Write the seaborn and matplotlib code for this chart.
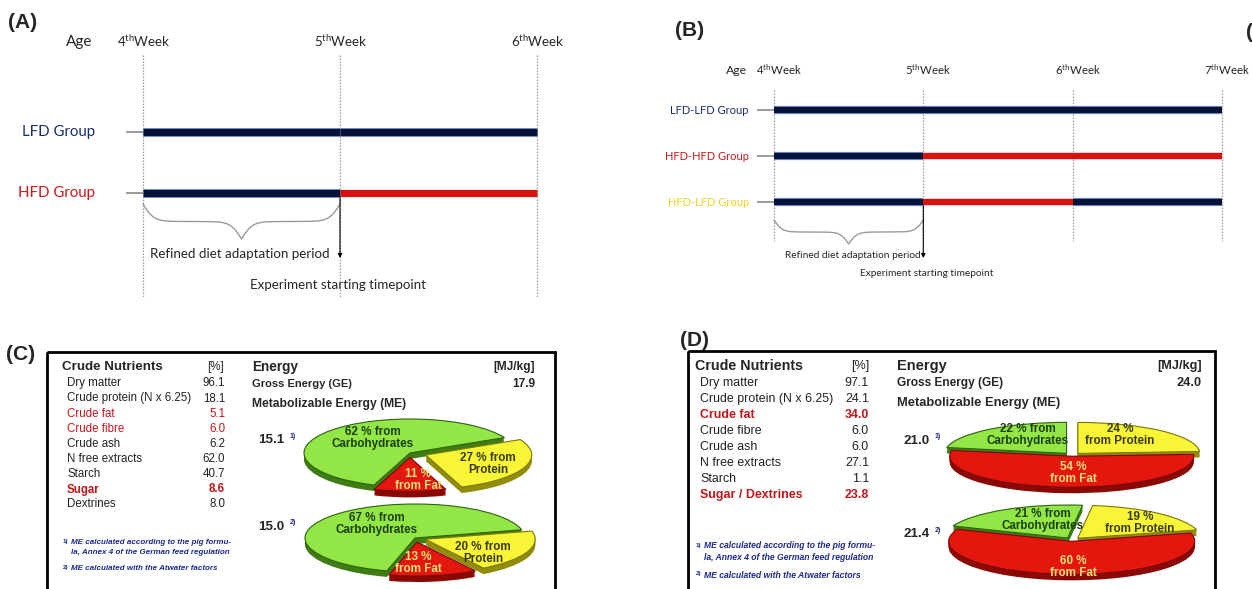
import numpy as np
import matplotlib
matplotlib.use("Agg")
import matplotlib.pyplot as plt
import matplotlib.transforms as mtransforms
import matplotlib.patheffects as pe
from matplotlib.patches import Rectangle
import seaborn as sns

# ---------------------------------------------------------------- data
# (A) two-group design
weeks_a = [4, 5, 6]
groups_a = ["LFD Group", "HFD Group"]
diets_a = [["LFD", "LFD"],
           ["LFD", "HFD"]]

# (B) three-group design
weeks_b = [4, 5, 6, 7]
groups_b = ["LFD-LFD Group", "HFD-HFD Group", "HFD-LFD Group"]
diets_b = [["LFD", "LFD", "LFD"],
           ["LFD", "HFD", "HFD"],
           ["LFD", "HFD", "LFD"]]

# (C) low-fat diet composition
nutrients_c = ["Dry matter", "Crude protein (N x 6.25)", "Crude fat", "Crude fibre",
               "Crude ash", "N free extracts", "Starch", "Sugar", "Dextrines"]
values_c = ["96.1", "18.1", "5.1", "6.0", "6.2", "62.0", "40.7", "8.6", "8.0"]
style_c = ["n", "n", "red", "red", "n", "n", "n", "redbold", "n"]
gross_energy_c = "17.9"
me_c = ["15.1", "15.0"]
pie_c1 = [27, 11, 62]          # protein, fat, carbohydrates
pie_c2 = [20, 13, 67]

# (D) high-fat diet composition
nutrients_d = ["Dry matter", "Crude protein (N x 6.25)", "Crude fat", "Crude fibre",
               "Crude ash", "N free extracts", "Starch", "Sugar / Dextrines"]
values_d = ["97.1", "24.1", "34.0", "6.0", "6.0", "27.1", "1.1", "23.8"]
style_d = ["n", "n", "redbold", "n", "n", "n", "n", "redbold"]
gross_energy_d = "24.0"
me_d = ["21.0", "21.4"]
pie_d1 = [22, 24, 54]          # carbohydrates, protein, fat
pie_d2 = [21, 19, 60]

footnotes = ["ME calculated according to the pig formu-",
             "la, Annex 4 of the German feed regulation",
             "ME calculated with the Atwater factors"]

# ---------------------------------------------------------------- style
sns.set_style("white")
NARROW = ["Lato", "DejaVu Sans"]
ARIAL = ["Liberation Sans", "DejaVu Sans"]
plt.rcParams["font.family"] = ARIAL
plt.rcParams["mathtext.fontset"] = "custom"
plt.rcParams["mathtext.rm"] = "Lato"

NAVY = "#07123b"
RED = "#d8120e"
diet_color = {"LFD": NAVY, "HFD": RED}

W, H = 1252, 589
fig = plt.figure(figsize=(W / 100, H / 100), dpi=100)
fig.patch.set_facecolor("white")
# pixel coordinates measured from the top-left corner
PX = mtransforms.Affine2D().scale(1 / W, -1 / H).translate(0, 1) + fig.transFigure


def txt(x, y, s, size, **kw):
    kw.setdefault("va", "center")
    kw.setdefault("ha", "left")
    fig.text(x, y, s, transform=PX, fontsize=size, **kw)


def add_ax(left, top, width, height):
    ax = fig.add_axes([left / W, 1 - (top + height) / H, width / W, height / H])
    ax.set_axis_off()
    return ax


# ---------------------------------------------------------------- timelines
def brace(ax, x0, x1, ytop, depth):
    n = 151
    t = np.linspace(0, 1, n)
    k = 9.0
    half = 0.5 * np.tanh(k * t) + 0.5 * np.tanh(k * (t - 1)) + 0.5
    half = (half - half[0]) / (half[-1] - half[0])
    y = np.concatenate([half, half[-2::-1]])
    x = np.linspace(x0, x1, y.size)
    ax.plot(x, ytop + depth * y, color="#9a9a9a", lw=1.0, solid_capstyle="round")


def timeline(box, x0px, week_px, y0px, row_px, weeks, groups, diets, label_colors,
             label_x, label_size, week_y, week_size, week_shift, line_top, line_bot,
             brace_top, brace_tip, arrow_end, notes, note_size, bar_lw):
    left, top, width, height = box
    ax = add_ax(*box)
    w0 = weeks[0]
    ax.set_xlim(w0 + (left - x0px) / week_px, w0 + (left + width - x0px) / week_px)
    ax.set_ylim((top + height - y0px) / row_px, (top - y0px) / row_px)

    def ry(py):
        return (py - y0px) / row_px

    ax.vlines(weeks, ry(line_top), ry(line_bot), colors="#9c9c9c",
              linestyles=(0, (1.2, 1.2)), lw=0.9)
    rows = np.arange(len(groups))
    ax.hlines(rows, w0 - 17 / week_px, w0, colors="#8a8a8a", lw=1.2)
    for r, diet in enumerate(diets):
        for i, d in enumerate(diet):
            effects = [pe.Stroke(linewidth=bar_lw + 1.3, foreground="#7d9fd6"),
                       pe.Normal()] if d == "LFD" else None
            ax.hlines(r, weeks[i], weeks[i + 1], colors=diet_color[d], lw=bar_lw,
                      path_effects=effects, capstyle="butt")
    last = len(groups) - 1
    brace(ax, weeks[0], weeks[1], ry(brace_top), ry(brace_tip) - ry(brace_top))
    ax.annotate("", xy=(weeks[1], ry(arrow_end)), xytext=(weeks[1], last + 0.08),
                arrowprops=dict(arrowstyle="-|>", color="black", lw=0.8,
                                mutation_scale=6, shrinkA=0, shrinkB=0))
    # texts
    for r, g in enumerate(groups):
        ax.text(w0 + (label_x - x0px) / week_px, r, g, ha="right", va="center",
                color=label_colors[r], fontsize=label_size, family=NARROW)
    for w in weeks:
        ax.text(w + week_shift / week_px, ry(week_y),
                f"{w}$^{{\\mathrm{{th}}}}$Week", ha="center",
                va="center", fontsize=week_size, family=NARROW)
    for (px, py, s) in notes:
        ax.text(w0 + (px - x0px) / week_px, ry(py), s, ha="center", va="center",
                fontsize=note_size, family=NARROW)
    return ax


# (A)
txt(8, 22, "(A)", 15, weight="bold")
txt(79, 42, "Age", 11, ha="center", family=NARROW)
timeline((0, 0, 620, 310), 143, 197, 132, 61, weeks_a, groups_a, diets_a,
         ["#1b2d6c", "#c8191c"], 95, 10.8, 41, 9.6, 1, 55, 297, 204, 239, 258,
         [(240, 254, "Refined diet adaptation period"),
          (338, 285, "Experiment starting timepoint")], 9.6, 5.2)

# (B)
txt(675, 30, "(B)", 15, weight="bold")
txt(737, 70, "Age", 8.8, ha="center", family=NARROW)
timeline((640, 0, 612, 310), 774, 149.3, 110, 46, weeks_b, groups_b, diets_b,
         ["#1b2d6c", "#c8191c", "#f0cf2a"], 749, 8.0, 70, 8.2, 5, 90, 241, 220,
         244, 258,
         [(853, 256, "Refined diet adaptation period"),
          (927, 274, "Experiment starting timepoint")], 7.3, 4.6)
# tag of the neighbouring panel, cut by the right edge
txt(1246, 33, "(", 15, weight="bold")

# ---------------------------------------------------------------- pies
GREEN, GREEN_SIDE = "#92e645", "#3f7d14"
YELLOW, YELLOW_SIDE = "#f7f535", "#928c0c"
REDF, RED_SIDE = "#e4170f", "#8a0905"
EDGE = {"g": "#2f6310", "y": "#7c7608", "r": "#7a0704"}
LABEL_COL = {"g": "#1d3f0b", "y": "#3a3a0e", "r": "#ffe27a"}
FACE = {"g": GREEN, "y": YELLOW, "r": REDF}
SIDE = {"g": GREEN_SIDE, "y": YELLOW_SIDE, "r": RED_SIDE}


def pie3d(cx, cy, a, b, values, kinds, startangle, explode, templates, label_px,
          depth=6):
    ax = add_ax(cx - 1.5 * a, cy - 1.6 * b, 3 * a, 3.6 * b)
    for k in np.linspace(depth, 0.5, 8):
        ax.pie(values, colors=[SIDE[c] for c in kinds], startangle=startangle,
               counterclock=False, explode=explode, center=(0, -k / b),
               wedgeprops=dict(edgecolor="none", linewidth=0))
    wedges, _ = ax.pie(values, colors=[FACE[c] for c in kinds],
                       startangle=startangle, counterclock=False,
                       explode=explode, center=(0, 0),
                       wedgeprops=dict(linewidth=0.8))
    for wdg, c in zip(wedges, kinds):
        wdg.set_edgecolor(EDGE[c])
    ax.set_aspect("auto")
    ax.set_xlim(-1.5, 1.5)
    ax.set_ylim(-2.0, 1.6)
    for v, c, tpl, (px, py) in zip(values, kinds, templates, label_px):
        ax.text((px - cx) / a, (cy - py) / b, tpl.format(v), ha="center",
                va="center", fontsize=8.4, weight="bold", color=LABEL_COL[c],
                linespacing=1.05)
    return ax


# ---------------------------------------------------------------- tables
def panel(tag, tag_xy, box, table_x, val_x, rows_y, names, values, styles,
          energy_x, energy_r, ge, me, me_y, foot_y, s):
    txt(tag_xy[0], tag_xy[1], tag, 15, weight="bold")
    x, y, w, h = box
    fig.patches.append(Rectangle((x, y), w, h, transform=PX, fill=False,
                                 lw=2.0, ec="black"))
    txt(table_x, y + 15, "Crude Nutrients", 9.6 * s, weight="bold")
    txt(val_x - 9, y + 15, "[%]", 8.4 * s, ha="center")
    for yy, n, v, st in zip(rows_y, names, values, styles):
        col = "#c0161c" if st.startswith("red") else "#222222"
        wt = "bold" if st.endswith("bold") else "normal"
        txt(table_x + 5, yy, n, 8.3 * s, color=col, weight=wt)
        txt(val_x, yy, v, 8.3 * s, color=col, weight=wt, ha="right")
    blue = "#1e2a8a"
    fs = 5.8 * s
    txt(table_x + 1, foot_y[0] - 1, "1)", 4.5, color=blue, weight="bold")
    txt(table_x + 9, foot_y[0], footnotes[0], fs, color=blue, weight="bold",
        style="italic")
    txt(table_x + 9, foot_y[1], footnotes[1], fs, color=blue, weight="bold",
        style="italic")
    txt(table_x + 1, foot_y[2] - 1, "2)", 4.5, color=blue, weight="bold")
    txt(table_x + 9, foot_y[2], footnotes[2], fs, color=blue, weight="bold",
        style="italic")
    txt(energy_x, y + 15, "Energy", 9.8 * s, weight="bold")
    txt(energy_r, y + 15, "[MJ/kg]", 8.6 * s, weight="bold", ha="right")
    txt(energy_x, y + 32, "Gross Energy (GE)", 8.0 * s, weight="bold")
    txt(energy_r, y + 32, ge, 8.6 * s, weight="bold", ha="right")
    txt(energy_x, y + 52, "Metabolizable Energy (ME)", 8.7 * s, weight="bold")
    for i, (val, yy) in enumerate(zip(me, me_y)):
        txt(energy_x + 6, yy, val, 9.6, weight="bold")
        txt(energy_x + 38, yy - 4, f"{i + 1})", 5.0, color=blue, weight="bold")


panel("(C)", (6, 355), (47, 352, 508, 260), 62, 225,
      [383, 398.5, 414, 429, 444, 459, 474, 489.5, 504], nutrients_c, values_c,
      style_c, 252, 535, gross_energy_c, me_c, [440, 527], [542, 553, 569], 1.0)
panel("(D)", (680, 340), (688, 351, 527, 260), 695, 869,
      [383, 399, 415, 431, 447, 463, 479, 495], nutrients_d, values_d,
      style_d, 897, 1202, gross_energy_d, me_d, [441, 534], [546, 557, 575], 1.07)

# (C) pies: protein, fat, carbohydrates
pie3d(410, 453, 106, 34, pie_c1, ["y", "r", "g"], 27, [0.16, 0.13, 0.0],
      ["{} % from\nProtein", "{} %\nfrom Fat", "{} % from\nCarbohydrates"],
      [(488, 464), (418, 480), (373, 438)])
pie3d(415, 538, 110, 34, pie_c2, ["y", "r", "g"], 14, [0.10, 0.12, 0.0],
      ["{} % from\nProtein", "{} %\nfrom Fat", "{} % from\nCarbohydrates"],
      [(483, 553), (418, 563), (377, 524)])

# (D) pies: carbohydrates, protein, fat
pie3d(1072, 455, 122, 31, pie_d1, ["g", "y", "r"], 90 + 3.6 * pie_d1[0],
      [0.07, 0.07, 0.04],
      ["{} % from\nCarbohydrates", "{} %\nfrom Protein", "{} %\nfrom Fat"],
      [(1028, 435), (1120, 435), (1073, 473)])
pie3d(1072, 540, 123, 33, pie_d2, ["g", "y", "r"], 83 + 3.6 * pie_d2[0],
      [0.07, 0.07, 0.04],
      ["{} % from\nCarbohydrates", "{} %\nfrom Protein", "{} %\nfrom Fat"],
      [(1043, 520), (1140, 523), (1073, 567)])

fig.savefig("out.png", dpi=100, facecolor="white")
